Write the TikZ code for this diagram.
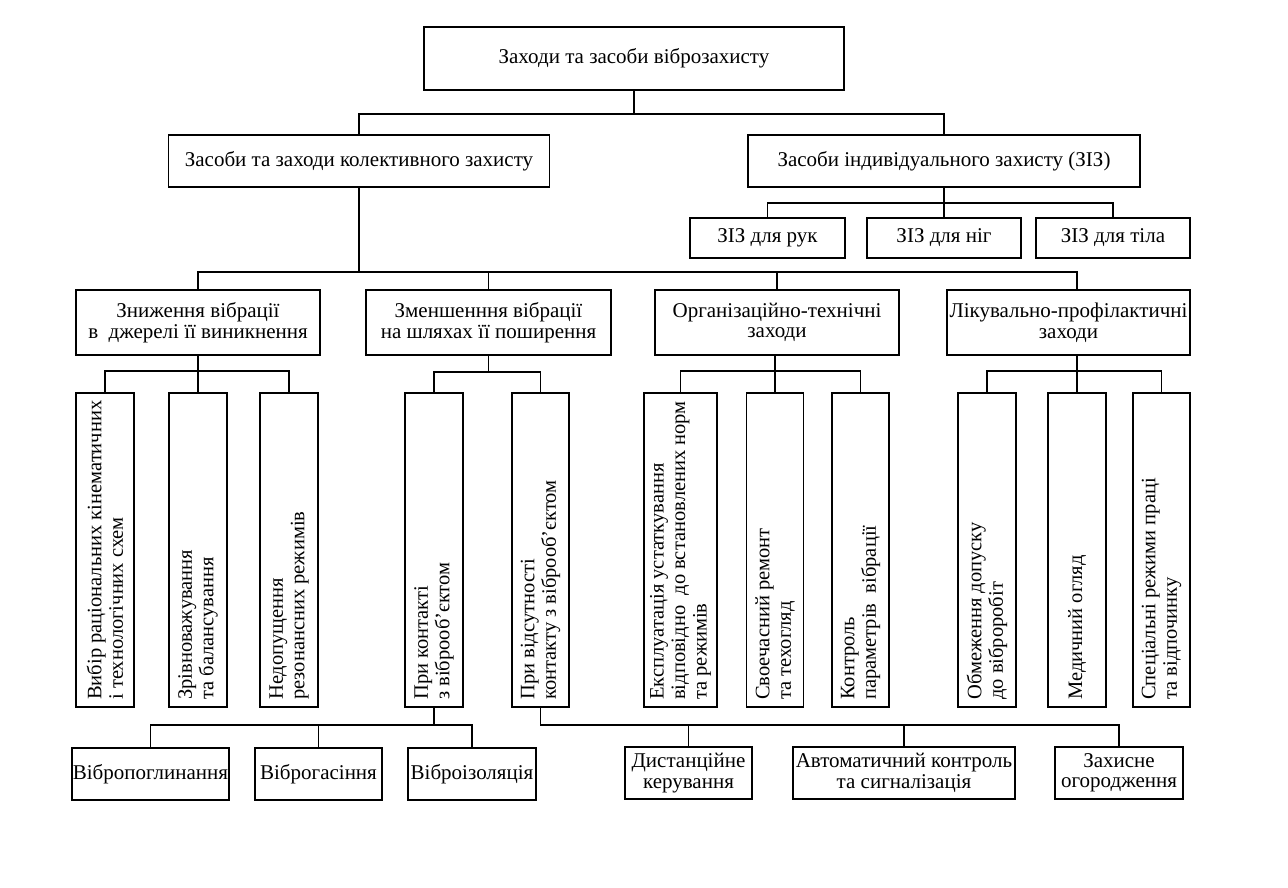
\documentclass[tikz,border=0pt]{standalone}
\usepackage{fontspec}
\setmainfont{Liberation Serif}
\begin{document}
\begin{tikzpicture}[x=1pt,y=-1pt,
  box/.style={draw, line width=1.8pt, inner sep=0pt, align=center, font=\fontsize{21}{20.5}\selectfont},
  vbox/.style={draw, line width=1.8pt, inner sep=0pt, minimum height=314pt},
  vtext/.style={rotate=90, anchor=west, align=left, inner sep=0pt, font=\fontsize{20.5}{21.5}\selectfont},
  conn/.style={line width=1.8pt},
  sz/.style 2 args={minimum width=#1pt, minimum height=#2pt}]
\useasboundingbox (0,0) rectangle (1288,888);

% level 0
\node[box, sz={420}{63}] (top) at (634,58.5) {Заходи та засоби віброзахисту};
% level 1
\node[box, sz={381}{52}] (coll) at (359,161) {Засоби та заходи колективного захисту};
\node[box, sz={392}{52}] (ind) at (944,161) {Засоби індивідуального захисту (ЗІЗ)};
% PPE
\node[box, sz={155}{40}] (zr) at (767.5,238) {ЗІЗ для рук};
\node[box, sz={154}{40}] (zn) at (944,238) {ЗІЗ для ніг};
\node[box, sz={154}{40}] (zt) at (1113,238) {ЗІЗ для тіла};
% level 2
\node[box, sz={244}{65}] (L1) at (198,322.5) {Зниження вібрації\\в \ джерелі її виникнення};
\node[box, sz={245}{65}] (L2) at (488.5,322.5) {Зменшенння вібрації\\на шляхах її поширення};
\node[box, sz={244}{65}] (L3) at (777,322.5) {Організаційно-технічні\\заходи};
\node[box, sz={243}{65}] (L4) at (1068.5,322.5) {Лікувально-профілактичні\\заходи};
% vertical boxes
\node[vbox, sz={58}{314}] (v1) at (105,550) {};
\node[vbox, sz={58}{314}] (v2) at (198,550) {};
\node[vbox, sz={58}{314}] (v3) at (289,550) {};
\node[vbox, sz={58}{314}] (v4) at (434,550) {};
\node[vbox, sz={57}{314}] (v5) at (540.5,550) {};
\node[vbox, sz={73}{314}] (v6) at (680.5,550) {};
\node[vbox, sz={57}{314}] (v7) at (775,550) {};
\node[vbox, sz={57}{314}] (v8) at (860.5,550) {};
\node[vbox, sz={58}{314}] (v9) at (987,550) {};
\node[vbox, sz={58}{314}] (v10) at (1077,550) {};
\node[vbox, sz={57}{314}] (v11) at (1161.5,550) {};
\node[vtext] (t1) at ([yshift=8pt]v1.south) {Вибір раціональних кінематичних\\і технологічних схем};
\node[vtext] (t2) at ([yshift=8pt]v2.south) {Зрівноважування\\та балансування};
\node[vtext] (t3) at ([yshift=8pt]v3.south) {Недопущення\\резонансних режимів};
\node[vtext] (t4) at ([yshift=8pt]v4.south) {При контакті\\з віброоб’єктом};
\node[vtext] (t5) at ([yshift=8pt]v5.south) {При відсутності\\контакту з віброоб’єктом};
\node[vtext] (t6) at ([yshift=8pt]v6.south) {Експлуатація устаткування\\відповідно \ до встановлених норм\\та режимів};
\node[vtext] (t7) at ([yshift=8pt]v7.south) {Своечасний ремонт\\та техогляд};
\node[vtext] (t8) at ([yshift=8pt]v8.south) {Контроль\\параметрів \ вібрації};
\node[vtext] (t9) at ([yshift=8pt]v9.south) {Обмеження допуску\\до віброробіт};
\node[vtext] (t10) at ([yshift=8pt]v10.south) {Медичний огляд};
\node[vtext] (t11) at ([yshift=8pt]v11.south) {Спеціальні режими праці\\та відпочинку};
% bottom boxes
\node[box, sz={157}{52}] (B1) at (150.5,774) {Вібропоглинання};
\node[box, sz={127}{52}] (B2) at (318.5,774) {Віброгасіння};
\node[box, sz={128}{52}] (B3) at (472,774) {Віброізоляція};
\node[box, sz={127}{52}] (B4) at (688.5,773) {Дистанційне\\керування};
\node[box, sz={222}{52}] (B5) at (904,773) {Автоматичний контроль\\та сигналізація};
\node[box, sz={128}{52}] (B6) at (1119,773) {Захисне\\огородження};

% connectors
\draw[conn] (top.south) -- ++(0,23) coordinate (b1);
\draw[conn] (coll.north) |- (b1) -| (ind.north);

\draw[conn] (ind.south) -- (zn.north);
\draw[conn] (zr.north) |- (zn.north |- 0,203) -| (zt.north);

\draw[conn] (coll.south) -- ++(0,84) coordinate (b3);
\draw[conn] (L1.north) |- (b3) -| (L4.north -| v10.north);
\draw[conn] (L2.north) -- (L2.north |- b3);
\draw[conn] (L3.north) -- (L3.north |- b3);

\draw[conn] (v2.north) -- (v2.north |- L1.south);
\draw[conn] (v1.north) |- (v2.north |- 0,371) -| (v3.north);
\draw[conn] (L2.south) -- ++(0,16) coordinate (c2);
\draw[conn] (v4.north) |- (c2) -| (v5.north);
\draw[conn] (v7.north) -- (v7.north |- L3.south);
\draw[conn] (v6.north) |- (v7.north |- 0,371) -| (v8.north);
\draw[conn] (v10.north) -- (v10.north |- L4.south);
\draw[conn] (v9.north) |- (v10.north |- 0,371) -| (v11.north);

\draw[conn] (v4.south) -- ++(0,17) coordinate (d1);
\draw[conn] (B1.north) |- (d1) -| (B3.north);
\draw[conn] (B2.north) -- (B2.north |- d1);
\draw[conn] (v5.south) -- ++(0,17) coordinate (d2) -| (B6.north);
\draw[conn] (B4.north) -- (B4.north |- d2);
\draw[conn] (B5.north) -- (B5.north |- d2);
\end{tikzpicture}
\end{document}
